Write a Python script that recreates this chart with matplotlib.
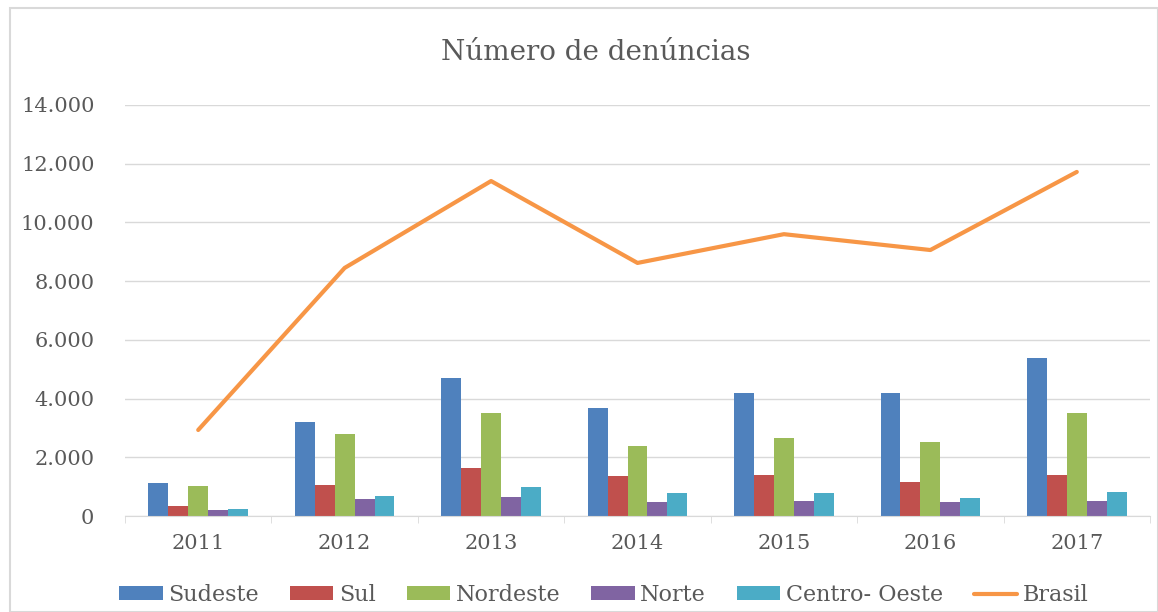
import matplotlib
matplotlib.use("Agg")
import matplotlib.pyplot as plt
import numpy as np
from matplotlib.ticker import FuncFormatter
from matplotlib.patches import Rectangle

years = ["2011", "2012", "2013", "2014", "2015", "2016", "2017"]
sudeste = [1120, 3210, 4700, 3680, 4180, 4180, 5370]
sul = [340, 1070, 1650, 1360, 1400, 1170, 1400]
nordeste = [1020, 2790, 3500, 2380, 2650, 2510, 3500]
norte = [200, 570, 640, 490, 510, 480, 510]
centro_oeste = [240, 680, 980, 780, 800, 620, 830]
brasil = [2930, 8450, 11410, 8620, 9600, 9060, 11720]

series_names = ["Sudeste", "Sul", "Nordeste", "Norte", "Centro- Oeste"]
series_vals = [sudeste, sul, nordeste, norte, centro_oeste]
colors = ["#4F81BD", "#C0504D", "#9BBB59", "#8064A2", "#4BACC6"]
line_color = "#F79646"

plt.rcParams['font.family'] = ['DejaVu Serif']
txt = "#595959"

fig = plt.figure(figsize=(11.58, 6.12), dpi=100)
ax = fig.add_axes([125/1158, 1-516/612, (1150-125)/1158, (516-105)/612])

x = np.arange(len(years))
n = len(series_names)
group_w = 0.68
bw = group_w / n
handles = []
for i, (name, vals, c) in enumerate(zip(series_names, series_vals, colors)):
    h = ax.bar(x - group_w/2 + bw*(i+0.5), vals, width=bw, color=c, label=name, zorder=2)
    handles.append(h)
ln, = ax.plot(x, brasil, color=line_color, lw=3, label="Brasil", zorder=3, solid_capstyle='round')
handles.append(ln)

ax.set_xlim(-0.5, len(years)-0.5)
ax.set_ylim(0, 14000)
ax.set_yticks(np.arange(0, 14001, 2000))
ax.yaxis.set_major_formatter(FuncFormatter(lambda v, p: f"{int(v):,}".replace(",", ".")))
ax.grid(axis='y', color="#D9D9D9", lw=1, zorder=0)
ax.set_axisbelow(True)
for s in ["top", "right", "left"]:
    ax.spines[s].set_visible(False)
ax.spines["bottom"].set_color("#D9D9D9")
ax.set_xticks(x)
ax.set_xticklabels(years)
ax.set_xticks(np.arange(-0.5, len(years), 1), minor=True)
ax.tick_params(axis='x', which='major', length=0, pad=13, labelsize=15, labelcolor=txt)
ax.tick_params(axis='x', which='minor', length=5, color="#D9D9D9")
ax.tick_params(axis='y', length=0, pad=22, labelsize=15, labelcolor=txt)

fig.text(596/1158, 1-52/612, "Número de denúncias", ha='center', va='center', fontsize=20, color=txt)

leg = fig.legend(handles=handles, labels=series_names + ["Brasil"], loc='center',
                 bbox_to_anchor=(604/1158, 1-595/612), ncol=6, frameon=False,
                 prop={'family': 'DejaVu Serif', 'size': 16},
                 handlelength=1.95, handleheight=0.6, columnspacing=1.4, handletextpad=0.25)
for t in leg.get_texts():
    t.set_color(txt)

fig.patches.append(Rectangle((10/1158, 0), 1-10/1158, 1-8/612, transform=fig.transFigure,
                             fill=False, edgecolor="#D9D9D9", lw=1.5))

fig.savefig("out.png", dpi=100)
